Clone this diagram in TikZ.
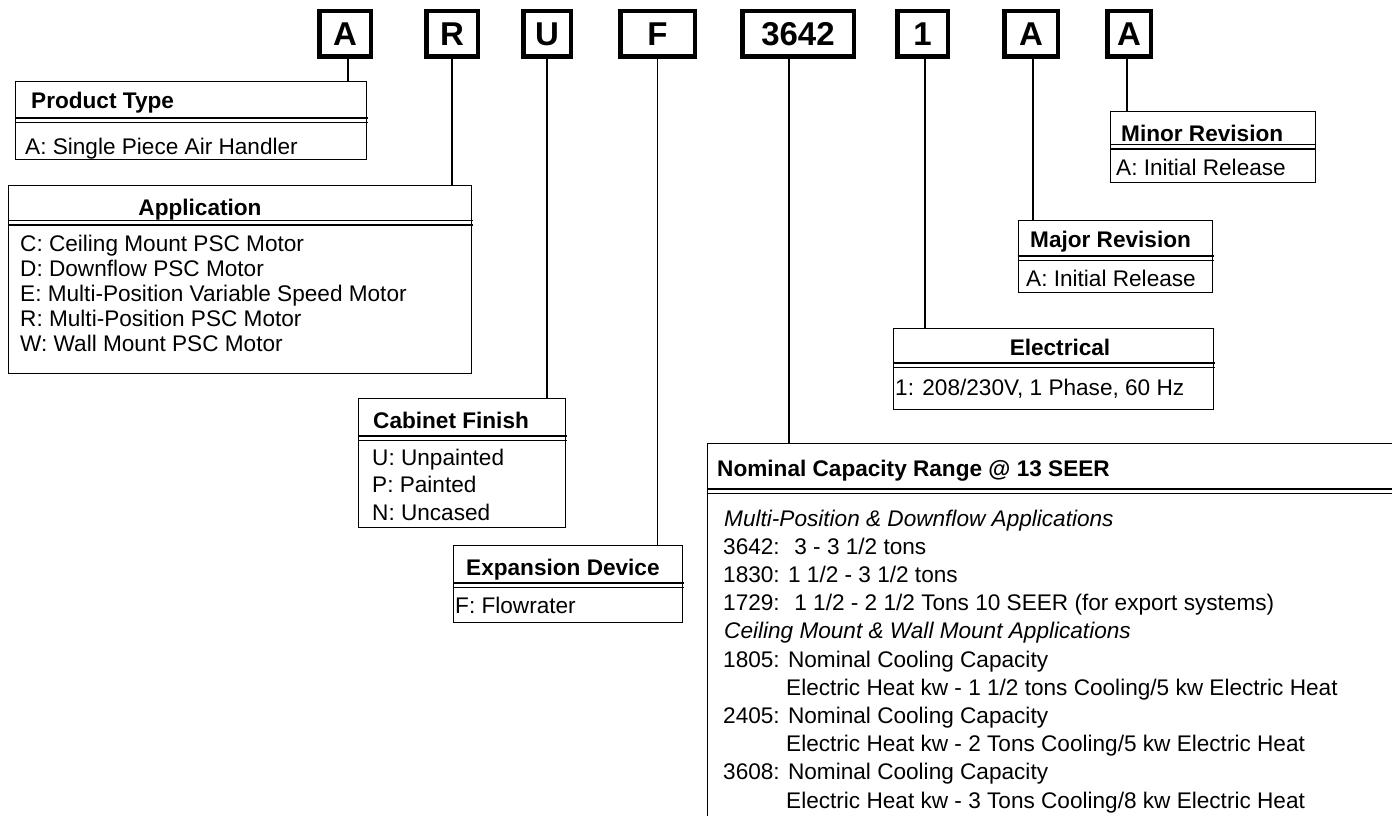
\documentclass[tikz,border=0pt]{standalone}
\usepackage{fontspec}
\setmainfont{Liberation Sans}
\begin{document}
\begin{tikzpicture}[x=1pt,y=-1pt,
  codebox/.style={draw, line width=4.5pt, inner sep=0pt, font=\fontsize{33}{36}\selectfont\bfseries},
  descbox/.style={draw, line width=1.4pt, inner sep=0pt, anchor=north west},
  sepline/.style={line width=1.8pt},
  hdr/.style={font=\fontsize{22.6}{26}\selectfont\bfseries, inner sep=0pt, anchor=base west},
  txt/.style={font=\fontsize{22.6}{26}\selectfont, inner sep=0pt, anchor=base west},
  itxt/.style={font=\fontsize{22.6}{26}\selectfont\itshape, inner sep=0pt, anchor=base west},
  link/.style={line width=1.3pt}]
\useasboundingbox (0,0) rectangle (1392,816);
\clip (0,0) rectangle (1392,816);
\fill[white] (0,0) rectangle (1392,816);

% code letters
\node[codebox, minimum width=51.5pt, minimum height=45.5pt] (lA1) at (345,34) {A};
\node[codebox, minimum width=51.5pt, minimum height=45.5pt] (lR) at (452,34) {R};
\node[codebox, minimum width=47.5pt, minimum height=45.5pt] (lU) at (547,34) {U};
\node[codebox, minimum width=74.5pt, minimum height=45.5pt] (lF) at (657.5,34) {F};
\node[codebox, minimum width=111.5pt, minimum height=45.5pt] (l3642) at (798,34) {3642};
\node[codebox, minimum width=50.5pt, minimum height=45.5pt] (l1) at (922.5,34) {1};
\node[codebox, minimum width=53.5pt, minimum height=45.5pt] (lA2) at (1031,34) {A};
\node[codebox, minimum width=43.5pt, minimum height=45.5pt] (lA3) at (1129,34) {A};

% description boxes
\node[descbox, minimum width=351pt, minimum height=78pt] (pt) at (15,81) {};
\draw[sepline] (15,118) -- (368,118);
\draw[sepline] (15,122.5) -- (368,122.5);
\node[hdr] (ptH) at (31,108) {Product Type};
\node[txt] (ptA) at (25,154) {A: Single Piece Air Handler};

\node[descbox, minimum width=463pt, minimum height=188pt] (app) at (8,185) {};
\draw[sepline] (8,220.5) -- (473,220.5);
\draw[sepline] (8,225) -- (473,225);
\node[hdr, anchor=base] (appH) at (200,215) {Application};
\node[txt] (appC) at (20,251) {C: Ceiling Mount PSC Motor};
\node[txt] (appD) at (20,276) {D: Downflow PSC Motor};
\node[txt] (appE) at (20,301) {E: Multi-Position Variable Speed Motor};
\node[txt] (appR) at (20,326) {R: Multi-Position PSC Motor};
\node[txt] (appW) at (20,351) {W: Wall Mount PSC Motor};

\node[descbox, minimum width=207pt, minimum height=129pt] (cab) at (358,398) {};
\draw[sepline] (358,436) -- (567,436);
\draw[sepline] (358,440.5) -- (567,440.5);
\node[hdr] (cabH) at (373,428) {Cabinet Finish};
\node[txt] (cabU) at (372,465) {U: Unpainted};
\node[txt] (cabP) at (372,492.5) {P: Painted};
\node[txt] (cabN) at (372,520) {N: Uncased};

\node[descbox, minimum width=229pt, minimum height=77pt] (exp) at (453,545) {};
\draw[sepline] (453,583) -- (684,583);
\draw[sepline] (453,587.5) -- (684,587.5);
\node[hdr] (expH) at (466,575) {Expansion Device};
\node[txt] (expF) at (455,613) {F: Flowrater};

\node[descbox, minimum width=320pt, minimum height=81pt] (elec) at (893,328) {};
\draw[sepline] (893,363) -- (1215,363);
\draw[sepline] (893,367.5) -- (1215,367.5);
\node[hdr, anchor=base] (elecH) at (1060,355) {Electrical};
\node[txt] (elec1) at (895,395) {1: 208/230V, 1 Phase, 60 Hz};

\node[descbox, minimum width=194pt, minimum height=72pt] (maj) at (1018,220) {};
\draw[sepline] (1018,256) -- (1214,256);
\draw[sepline] (1018,260.5) -- (1214,260.5);
\node[hdr] (majH) at (1030,247) {Major Revision};
\node[txt] (majA) at (1026,286) {A: Initial Release};

\node[descbox, minimum width=205pt, minimum height=71pt] (min) at (1110,111) {};
\draw[sepline] (1110,144.5) -- (1315,144.5);
\draw[sepline] (1110,149) -- (1315,149);
\node[hdr] (minH) at (1121,141) {Minor Revision};
\node[txt] (minA) at (1116,175) {A: Initial Release};

\node[descbox, minimum width=800pt, minimum height=450pt] (nom) at (707,443) {};
\draw[sepline] (707,489) -- (1400,489);
\draw[sepline] (707,493.5) -- (1400,493.5);
\node[hdr] (nomH) at (717,476) {Nominal Capacity Range @ 13 SEER};
\node[itxt] (n1) at (724,526) {Multi-Position \& Downflow Applications};
\node[txt] (n2) at (723,554.2) {3642:~ 3 - 3 1/2 tons};
\node[txt] (n3) at (723,582.4) {1830: 1 1/2 - 3 1/2 tons};
\node[txt] (n4) at (723,610.6) {1729:~ 1 1/2 - 2 1/2 Tons 10 SEER (for export systems)};
\node[itxt] (n5) at (724,638.8) {Ceiling Mount \& Wall Mount Applications};
\node[txt] (n6) at (723,667) {1805: Nominal Cooling Capacity};
\node[txt] (n7) at (786,695.2) {Electric Heat kw - 1 1/2 tons Cooling/5 kw Electric Heat};
\node[txt] (n8) at (723,723.4) {2405: Nominal Cooling Capacity};
\node[txt] (n9) at (786,751.6) {Electric Heat kw - 2 Tons Cooling/5 kw Electric Heat};
\node[txt] (n10) at (723,779.8) {3608: Nominal Cooling Capacity};
\node[txt] (n11) at (786,808) {Electric Heat kw - 3 Tons Cooling/8 kw Electric Heat};

% connectors
\draw[link] ([xshift=3pt]lA1.south) -- ([xshift=3pt]lA1.south |- pt.north);
\draw[link] (lR.south) -- (lR.south |- app.north);
\draw[link] (lU.south) -- (lU.south |- cab.north);
\draw[link] (lF.south) -- (lF.south |- exp.north);
\draw[link] ([xshift=-9pt]l3642.south) -- ([xshift=-9pt]l3642.south |- nom.north);
\draw[link] ([xshift=2.5pt]l1.south) -- ([xshift=2.5pt]l1.south |- elec.north);
\draw[link] ([xshift=2pt]lA2.south) -- ([xshift=2pt]lA2.south |- maj.north);
\draw[link] ([xshift=-2pt]lA3.south) -- ([xshift=-2pt]lA3.south |- min.north);
\end{tikzpicture}
\end{document}
